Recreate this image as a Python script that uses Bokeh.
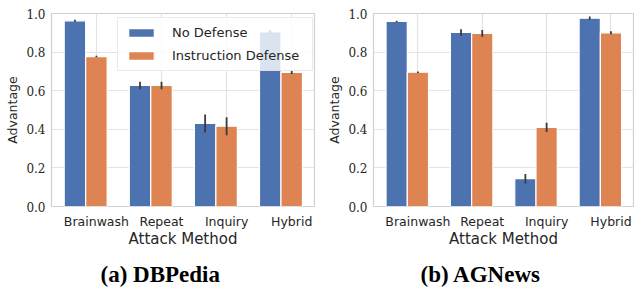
from bokeh.plotting import figure
from bokeh.models import FixedTicker, Legend, LegendItem, Title, ColumnDataSource
from bokeh.layouts import row
from bokeh.embed import file_html
from bokeh.resources import INLINE

categories = ["Brainwash", "Repeat", "Inquiry", "Hybrid"]
series_names = ["No Defense", "Instruction Defense"]

dbpedia_no_defense = [0.962, 0.627, 0.430, 0.905]
dbpedia_no_defense_err = [0.005, 0.020, 0.047, 0.008]
dbpedia_instruction = [0.777, 0.627, 0.416, 0.695]
dbpedia_instruction_err = [0.004, 0.020, 0.047, 0.008]

agnews_no_defense = [0.959, 0.902, 0.144, 0.976]
agnews_no_defense_err = [0.004, 0.017, 0.025, 0.008]
agnews_instruction = [0.696, 0.897, 0.410, 0.900]
agnews_instruction_err = [0.004, 0.018, 0.024, 0.008]

y_ticks = [0.0, 0.2, 0.4, 0.6, 0.8, 1.0]

BLUE = "#4c72b0"
ORANGE = "#dd8452"
GRID = "#e3e3e3"
BAR_W = 0.33
SANS = "DejaVu Sans"
SERIF = "DejaVu Serif"


def make_panel(vals_a, err_a, vals_b, err_b, caption, cap_offset, width,
               left_border, right_border, legend):
    p = figure(width=width, height=295, output_backend="svg", toolbar_location=None,
               x_range=(-0.69, 3.35), y_range=(0, 1.0),
               min_border_left=left_border, min_border_right=right_border,
               min_border_top=13, min_border_bottom=10)
    p.background_fill_color = "white"
    p.border_fill_color = "white"
    p.outline_line_color = "#d0d0d0"
    p.outline_line_width = 1.2

    idx = list(range(len(categories)))
    xa = [i - BAR_W for i in idx]
    xb = [i for i in idx]
    src_a = ColumnDataSource(dict(x=xa, top=vals_a, lo=[v - e for v, e in zip(vals_a, err_a)],
                                  hi=[v + e for v, e in zip(vals_a, err_a)]))
    src_b = ColumnDataSource(dict(x=xb, top=vals_b, lo=[v - e for v, e in zip(vals_b, err_b)],
                                  hi=[v + e for v, e in zip(vals_b, err_b)]))
    ra = p.vbar(x="x", top="top", bottom=0, width=BAR_W, source=src_a,
                fill_color=BLUE, line_color="white", line_width=1.2)
    rb = p.vbar(x="x", top="top", bottom=0, width=BAR_W, source=src_b,
                fill_color=ORANGE, line_color="white", line_width=1.2)
    p.segment(x0="x", y0="lo", x1="x", y1="hi", source=src_a, line_color="#3a3a3a", line_width=1.8)
    p.segment(x0="x", y0="lo", x1="x", y1="hi", source=src_b, line_color="#3a3a3a", line_width=1.8)

    p.xaxis.ticker = FixedTicker(ticks=idx)
    p.xaxis.major_label_overrides = {i: c for i, c in zip(idx, categories)}
    p.yaxis.ticker = FixedTicker(ticks=y_ticks)
    p.yaxis.major_label_overrides = {t: f"{t:.1f}" for t in y_ticks}

    for ax in (p.xaxis[0], p.yaxis[0]):
        ax.axis_line_color = None
        ax.major_tick_line_color = None
        ax.minor_tick_line_color = None
        ax.major_tick_out = 0
        ax.major_tick_in = 0
        ax.minor_tick_out = 0
        ax.minor_tick_in = 0
        ax.axis_label_text_font_style = "normal"
        ax.axis_label_text_color = "#262626"
        ax.major_label_text_color = "#262626"

    p.xaxis.major_label_text_font = SANS
    p.xaxis.major_label_text_font_size = "12.5px"
    p.xaxis.major_label_standoff = 7
    p.xaxis.axis_label = "Attack Method"
    p.xaxis.axis_label_text_font = SANS
    p.xaxis.axis_label_text_font_size = "15px"
    p.xaxis.axis_label_standoff = -2

    p.yaxis.major_label_text_font = SERIF
    p.yaxis.major_label_text_font_size = "12px"
    p.yaxis.major_label_standoff = 6
    p.yaxis.axis_label = "Advantage"
    p.yaxis.axis_label_text_font = SANS
    p.yaxis.axis_label_text_font_size = "12.5px"
    p.yaxis.axis_label_standoff = 3

    p.xgrid.grid_line_color = GRID
    p.ygrid.grid_line_color = GRID
    p.xgrid.grid_line_width = 1.2
    p.ygrid.grid_line_width = 1.2

    cap = Title(text=caption, align="left", offset=cap_offset, text_font="Liberation Serif",
                text_font_size="23px", text_font_style="bold", text_color="black",
                standoff=18)
    p.add_layout(cap, "below")

    if legend:
        lg = Legend(items=[LegendItem(label=series_names[0], renderers=[ra]),
                           LegendItem(label=series_names[1], renderers=[rb])],
                    location=(66, 135))
        lg.label_text_font = SANS
        lg.label_text_font_size = "13px"
        lg.label_text_color = "#262626"
        lg.glyph_width = 32
        lg.glyph_height = 11
        lg.label_standoff = 15
        lg.label_width = 133
        lg.spacing = 8
        lg.padding = 7
        lg.margin = 0
        lg.background_fill_alpha = 0.8
        lg.border_line_color = "#d8d8d8"
        lg.border_line_width = 1
        p.add_layout(lg, "center")
    return p


p1 = make_panel(dbpedia_no_defense, dbpedia_no_defense_err, dbpedia_instruction,
                dbpedia_instruction_err, "(a) DBPedia", 49, 318, 51, 4, True)
p2 = make_panel(agnews_no_defense, agnews_no_defense_err, agnews_instruction,
                agnews_instruction_err, "(b) AGNews", 47, 316, 55, 1, False)

layout = row(p1, p2)
open("out.html", "w").write(file_html(layout, INLINE))
